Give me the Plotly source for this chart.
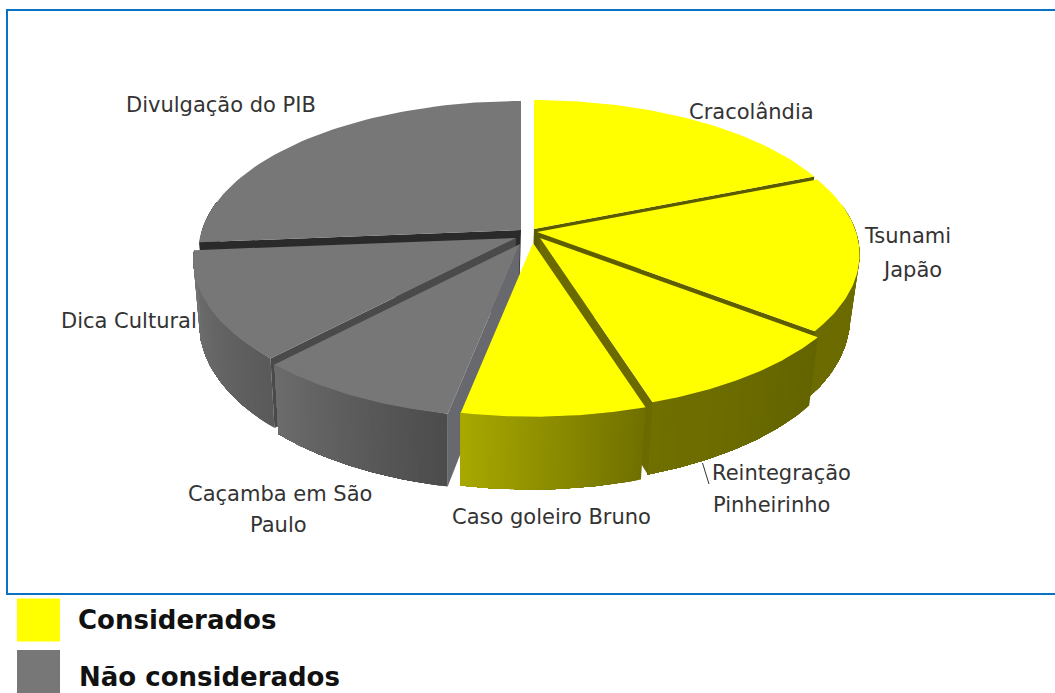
import math
import plotly.graph_objects as go

# Shares of each topic, clockwise from twelve o'clock
topics = ["Cracolândia", "Tsunami Japão", "Reintegração Pinheirinho", "Caso goleiro Bruno",
          "Caçamba em São Paulo", "Dica Cultural", "Divulgação do PIB"]
shares = [18.9, 16.55, 9.65, 8.0, 8.95, 11.65, 26.3]
groups = ["Considerados", "Considerados", "Considerados", "Considerados",
          "Não considerados", "Não considerados", "Não considerados"]
legend_names = ["Considerados", "Não considerados"]

# Pull-out of each slice from the pie centre, in pixels
pull_x = [7, 10, 13, 6, -7, -11, -6]
pull_y = [-3, 0, 6, 11, 12, 6, -2]

# Wall shading of each slice: (colour at slice start, colour at slice end)
wall_shades = [((94, 94, 0), (94, 94, 0)),
               ((107, 107, 0), (107, 107, 0)),
               ((100, 100, 0), (112, 112, 0)),
               ((112, 112, 0), (168, 168, 0)),
               ((76, 76, 76), (108, 108, 108)),
               ((90, 90, 90), (116, 116, 116)),
               ((90, 90, 90), (90, 90, 90))]
side_colours = ["#5a5a00", "#5e5e00", "#6a6a00", "#8a8a00", "#68686f", "#4a4a4a", "#2a2a2a"]
top_colours = {"Considerados": "#ffff00", "Não considerados": "#777777"}

CX, CY = 527.0, 232.0
RX, RY, PERSP = 319.0, 148.0, 0.148
DEPTH = 62.0
BASE_SCALE, BASE_ANCHOR = 0.977, 445.0
STEPS = 60


def project(ex, ey):
    """Map a point of the unit disc to the page with a simple perspective."""
    s = 1.0 / (1.0 + PERSP * ey)
    return CX + RX * ex * s, CY - RY * ey * s, s


def rim(angle):
    return project(math.sin(angle), math.cos(angle))


def lift(pt, ox, oy):
    return pt[0] + ox, pt[1] + oy


def drop(pt, ox, oy):
    # Same disc point on the lower face: narrower and shifted down
    return BASE_ANCHOR + (pt[0] + ox - BASE_ANCHOR) * BASE_SCALE, pt[1] + oy + DEPTH * pt[2]


def polygon(points, colour):
    xs = [p[0] for p in points] + [points[0][0]]
    ys = [p[1] for p in points] + [points[0][1]]
    return go.Scatter(x=xs, y=ys, mode="lines", fill="toself", fillcolor=colour,
                      line=dict(width=0), hoverinfo="skip", showlegend=False)


total = sum(shares)
starts, acc = [], 0.0
for v in shares:
    starts.append(acc / total * 2 * math.pi)
    acc += v

fig = go.Figure()
order = sorted(range(len(shares)),
               key=lambda i: -math.cos(starts[i] + shares[i] / total * math.pi))

for i in order:
    a0 = starts[i]
    a1 = a0 + shares[i] / total * 2 * math.pi
    ox, oy = pull_x[i], pull_y[i]
    apex = project(0, 0)
    angles = [a0 + (a1 - a0) * k / STEPS for k in range(STEPS + 1)]
    arc = [rim(a) for a in angles]

    # Outer wall, front half only: each strip reaches to the slice end so no seams show
    front = [p for a, p in zip(angles, arc) if math.cos(a) < 0.2]
    c0, c1 = wall_shades[i]
    for k in range(len(front) - 1):
        t = k / max(len(front) - 2, 1)
        col = tuple(round(c0[n] + (c1[n] - c0[n]) * t) for n in range(3))
        band = front[k:]
        fig.add_trace(polygon([lift(p, ox, oy) for p in band] +
                              [drop(p, ox, oy) for p in reversed(band)],
                              "rgb(%d,%d,%d)" % col))

    # Radial walls, only those turned towards the viewer
    for edge, normal in ((arc[0], a0 - math.pi / 2), (arc[-1], a1 + math.pi / 2)):
        if math.cos(normal) < -0.05:
            fig.add_trace(polygon([lift(apex, ox, oy), lift(edge, ox, oy),
                                   drop(edge, ox, oy), drop(apex, ox, oy)], side_colours[i]))

    # Top face
    fig.add_trace(polygon([lift(apex, ox, oy)] + [lift(p, ox, oy) for p in arc],
                          top_colours[groups[i]]))

# Legend swatches and names
fig.add_trace(go.Scatter(x=[38.5, 38.5], y=[620, 671.5], mode="markers",
                         marker=dict(symbol="square", size=43, line=dict(width=0),
                                     color=[top_colours[n] for n in legend_names]),
                         hoverinfo="skip", showlegend=False))

label_lines = [("Divulgação do PIB", 126, 105), ("Cracolândia", 689, 112), ("Tsunami", 864, 236),
               ("Japão", 882, 270), ("Dica Cultural", 61, 321), ("Caçamba em São", 188, 494),
               ("Paulo", 250, 525), ("Caso goleiro Bruno", 452, 517), ("Reintegração", 712, 473),
               ("Pinheirinho", 713, 505)]
annotations = [dict(x=x, y=y, text=t, showarrow=False, xanchor="left", yanchor="middle",
                    xshift=-2, font=dict(family="DejaVu Sans", size=21, color="#333333"))
               for t, x, y in label_lines]
for name, x, y in zip(legend_names, [78, 79], [620, 677]):
    annotations.append(dict(x=x, y=y, text="<b>%s</b>" % name, showarrow=False, xanchor="left",
                            xshift=-2, yanchor="middle",
                            font=dict(family="DejaVu Sans", size=26, color="#111111")))

frame = dict(type="rect", x0=7, y0=10, x1=1060, y1=594, line=dict(color="#0a72c4", width=2),
             fillcolor="rgba(0,0,0,0)", layer="below")
leader = dict(type="line", x0=702.5, y0=463, x1=709, y1=484, line=dict(color="#333333", width=1))

fig.update_layout(
    width=1055, height=693, margin=dict(l=0, r=0, t=0, b=0),
    paper_bgcolor="#ffffff", plot_bgcolor="#ffffff", showlegend=False,
    xaxis=dict(range=[0, 1055], visible=False, fixedrange=True),
    yaxis=dict(range=[693, 0], visible=False, fixedrange=True),
    annotations=annotations, shapes=[frame, leader],
)
fig.write_html("out.html", config={"displayModeBar": False})
